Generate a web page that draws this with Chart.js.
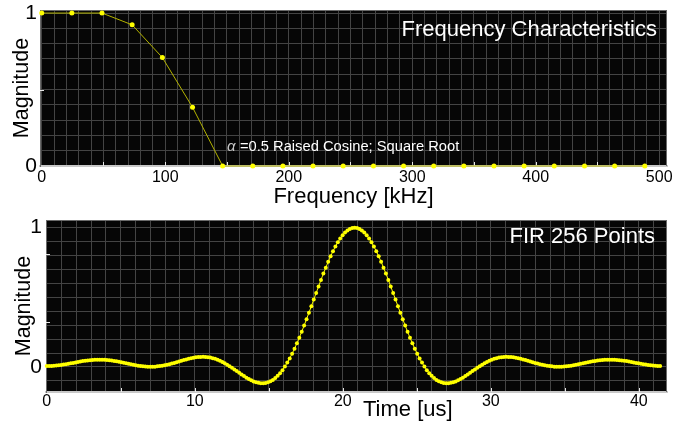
<!DOCTYPE html>
<html>
<head>
<meta charset="utf-8">
<title>Raised Cosine FIR</title>
<script src="https://cdn.jsdelivr.net/npm/chart.js@4.4.1/dist/chart.umd.min.js"></script>
<style>
  body { margin: 0; background: #fff; }
  canvas { position: absolute; left: 0; }
</style>
</head>
<body>
<canvas id="freqChart" width="679" height="210" style="top:0"></canvas>
<canvas id="firChart" width="679" height="213" style="top:210px"></canvas>
<script>
// ---- datos ----
// respuesta en frecuencia (muestras cada ~24.4 kHz)
const FREQ_KHZ = [0, 24.4, 48.8, 73.2, 97.7, 122.1, 146.5, 170.9, 195.3, 219.7, 244.1,
                  268.6, 293.0, 317.4, 341.8, 366.2, 390.6, 415.0, 439.5, 463.9, 488.3];
const FREQ_MAG = [1, 1, 1, 0.923, 0.709, 0.384, 0, 0, 0, 0, 0,
                  0, 0, 0, 0, 0, 0, 0, 0, 0, 0];
const FREQ_LABELS = [0, 100, 200, 300, 400, 500];
const FREQ_MARKS = [50, 100, 150, 200, 250, 300, 350, 400, 450];

// respuesta al impulso FIR, 256 coeficientes
const DT_US = 0.1625;
const FIR_COEF = [
  0.006, 0.007, 0.007, 0.008, 0.010, 0.012, 0.014, 0.017, 0.020, 0.023,
  0.026, 0.029, 0.032, 0.036, 0.039, 0.042, 0.044, 0.046, 0.048, 0.050,
  0.051, 0.052, 0.052, 0.052, 0.051, 0.049, 0.048, 0.046, 0.043, 0.040,
  0.037, 0.033, 0.030, 0.026, 0.023, 0.019, 0.015, 0.012, 0.009, 0.007,
  0.005, 0.003, 0.002, 0.002, 0.002, 0.002, 0.004, 0.006, 0.008, 0.012,
  0.015, 0.019, 0.024, 0.029, 0.034, 0.039, 0.044, 0.049, 0.054, 0.059,
  0.063, 0.066, 0.069, 0.071, 0.072, 0.073, 0.072, 0.070, 0.067, 0.063,
  0.058, 0.052, 0.044, 0.036, 0.026, 0.016, 0.005, -0.006, -0.018, -0.030,
  -0.042, -0.054, -0.066, -0.077, -0.087, -0.096, -0.104, -0.110, -0.114, -0.117,
  -0.117, -0.115, -0.110, -0.103, -0.093, -0.080, -0.064, -0.045, -0.023, 0.003,
  0.031, 0.061, 0.095, 0.131, 0.170, 0.210, 0.253, 0.297, 0.343, 0.389,
  0.436, 0.484, 0.531, 0.578, 0.625, 0.670, 0.713, 0.755, 0.794, 0.831,
  0.865, 0.895, 0.922, 0.946, 0.965, 0.980, 0.991, 0.998,
  1.000,
  0.998, 0.991, 0.980, 0.965, 0.946, 0.922, 0.895, 0.865, 0.831, 0.794,
  0.755, 0.713, 0.670, 0.625, 0.578, 0.531, 0.484, 0.436, 0.389, 0.343,
  0.297, 0.253, 0.210, 0.170, 0.131, 0.095, 0.061, 0.031, 0.003, -0.023,
  -0.045, -0.064, -0.080, -0.093, -0.103, -0.110, -0.115, -0.117, -0.117, -0.114,
  -0.110, -0.104, -0.096, -0.087, -0.077, -0.066, -0.054, -0.042, -0.030, -0.018,
  -0.006, 0.005, 0.016, 0.026, 0.036, 0.044, 0.052, 0.058, 0.063, 0.067,
  0.070, 0.072, 0.073, 0.072, 0.071, 0.069, 0.066, 0.063, 0.059, 0.054,
  0.049, 0.044, 0.039, 0.034, 0.029, 0.024, 0.019, 0.015, 0.012, 0.008,
  0.006, 0.004, 0.002, 0.002, 0.002, 0.002, 0.003, 0.005, 0.007, 0.009,
  0.012, 0.015, 0.019, 0.023, 0.026, 0.030, 0.033, 0.037, 0.040, 0.043,
  0.046, 0.048, 0.049, 0.051, 0.052, 0.052, 0.052, 0.051, 0.050, 0.048,
  0.046, 0.044, 0.042, 0.039, 0.036, 0.032, 0.029, 0.026, 0.023, 0.020,
  0.017, 0.014, 0.012, 0.010, 0.008, 0.007, 0.007
];
const TIME_LABELS = [0, 10, 20, 30, 40];
const TIME_MARKS = [5, 10, 15, 20, 25, 30, 35, 40];
const MAG_LABELS = [0, 1];

// ---- estilos ----
const FONT = "'Liberation Sans', Arial, sans-serif";
const PLOT_BG = '#060606';
const GRID = '#444444';
const FRAME = '#6a6a6a';
const MARK = '#e8e8e8';
const YELLOW = '#ffff00';

Chart.defaults.font.family = FONT;
Chart.defaults.color = '#000';

// fondo negro del area de trazado
const plotBackground = {
  id: 'plotBackground',
  beforeDraw(chart) {
    const { ctx, chartArea: a } = chart;
    ctx.save();
    ctx.fillStyle = PLOT_BG;
    ctx.fillRect(a.left, a.top, a.right - a.left, a.bottom - a.top);
    ctx.restore();
  }
};

// marco superior/derecho y marcas blancas en los ejes
function frameMarks(marksX, marksY) {
  return {
    id: 'frameMarks',
    beforeDatasetsDraw(chart) {
      const { ctx, chartArea: a, scales } = chart;
      ctx.save();
      ctx.lineWidth = 1;
      ctx.strokeStyle = FRAME;
      ctx.beginPath();
      ctx.moveTo(a.left, a.top + 0.5);
      ctx.lineTo(a.right, a.top + 0.5);
      ctx.moveTo(a.right - 0.5, a.top);
      ctx.lineTo(a.right - 0.5, a.bottom);
      ctx.stroke();
      ctx.strokeStyle = MARK;
      ctx.beginPath();
      marksX.forEach(v => {
        const x = Math.round(scales.x.getPixelForValue(v)) + 0.5;
        ctx.moveTo(x, a.bottom);
        ctx.lineTo(x, a.bottom - 4);
      });
      marksY.forEach(v => {
        const y = Math.round(scales.y.getPixelForValue(v)) + 0.5;
        ctx.moveTo(a.left, y);
        ctx.lineTo(a.left + 4, y);
      });
      ctx.stroke();
      ctx.restore();
    }
  };
}

// textos sueltos
function overlayText(items) {
  return {
    id: 'overlayText',
    afterDraw(chart) {
      const ctx = chart.ctx;
      ctx.save();
      items.forEach(t => {
        ctx.font = t.font;
        ctx.fillStyle = t.color;
        ctx.textAlign = t.align || 'left';
        ctx.textBaseline = 'alphabetic';
        ctx.fillText(t.text, t.x, t.y);
      });
      ctx.restore();
    }
  };
}

function only(list) {
  return value => (list.includes(value) ? String(value) : '');
}

function fitAxis(size, horizontal) {
  return scale => {
    if (horizontal) {
      scale.height = size;
      scale.paddingLeft = 0;
      scale.paddingRight = 0;
    } else {
      scale.width = size;
      scale.paddingTop = 0;
      scale.paddingBottom = 0;
    }
  };
}

// Grafico de respuesta en frecuencia
function drawFrequencyChart() {
  const ctx = document.getElementById('freqChart').getContext('2d');
  new Chart(ctx, {
    type: 'line',
    data: {
      datasets: [{
        data: FREQ_KHZ.map((f, i) => ({ x: f, y: FREQ_MAG[i] })),
        borderColor: '#b4b400',
        borderWidth: 1,
        pointRadius: 2.5,
        pointBackgroundColor: YELLOW,
        pointBorderWidth: 0,
        clip: false
      }]
    },
    options: {
      responsive: false,
      animation: false,
      layout: { padding: { top: 10, right: 12, left: 0, bottom: 0 } },
      plugins: { legend: { display: false }, tooltip: { enabled: false } },
      scales: {
        x: {
          type: 'linear', min: -1.4, max: 506.3,
          afterFit: fitAxis(44, true),
          ticks: { stepSize: 10, includeBounds: false, autoSkip: false, maxRotation: 0, minRotation: 0,
                   padding: 2, font: { size: 16 }, callback: only(FREQ_LABELS) },
          grid: { color: GRID, drawTicks: false },
          border: { color: '#c8c8c8', width: 2 },
          title: { display: true, text: 'Frequency [kHz]', font: { size: 22 }, padding: { top: 0, bottom: 0 } }
        },
        y: {
          type: 'linear', min: 0, max: 1.02,
          afterFit: fitAxis(40, false),
          ticks: { stepSize: 0.1, includeBounds: false, autoSkip: false, padding: 3,
                   font: { size: 21 }, callback: only(MAG_LABELS) },
          grid: { color: GRID, drawTicks: false },
          border: { color: FRAME, width: 1 },
          title: { display: true, text: 'Magnitude', font: { size: 21.5 }, padding: { top: 9, bottom: 0 } }
        }
      }
    },
    plugins: [
      plotBackground,
      frameMarks(FREQ_MARKS, [0.5]),
      overlayText([
        { text: 'Frequency Characteristics', x: 657, y: 36, align: 'right', font: '22px ' + FONT, color: '#fff' },
        { text: '\u03b1', x: 227, y: 151, font: 'italic 15px ' + FONT, color: '#c8c8c8' },
        { text: '=0.5 Raised Cosine; Square Root', x: 240, y: 151, font: '14.7px ' + FONT, color: '#fff' }
      ])
    ]
  });
}

// Grafico de la respuesta al impulso FIR
function drawFirChart() {
  const ctx = document.getElementById('firChart').getContext('2d');
  new Chart(ctx, {
    type: 'line',
    data: {
      datasets: [{
        data: FIR_COEF.map((v, i) => ({ x: i * DT_US, y: v })),
        borderColor: YELLOW,
        borderWidth: 1,
        pointRadius: 2,
        pointBackgroundColor: YELLOW,
        pointBorderWidth: 0,
        clip: false
      }]
    },
    options: {
      responsive: false,
      animation: false,
      layout: { padding: { top: 10, right: 12, left: 0, bottom: 0 } },
      plugins: { legend: { display: false }, tooltip: { enabled: false } },
      scales: {
        x: {
          type: 'linear', min: -0.05, max: 41.9,
          afterFit: fitAxis(31, true),
          ticks: { stepSize: 1, includeBounds: false, autoSkip: false, maxRotation: 0, minRotation: 0,
                   padding: 0, font: { size: 16 }, callback: only(TIME_LABELS) },
          grid: { color: GRID, drawTicks: false },
          border: { color: '#c8c8c8', width: 2 }
        },
        y: {
          type: 'linear', min: -0.18, max: 1.055,
          afterFit: fitAxis(46, false),
          ticks: { stepSize: 0.1, includeBounds: false, autoSkip: false, padding: 4,
                   font: { size: 21 }, callback: only(MAG_LABELS) },
          grid: { color: GRID, drawTicks: false },
          border: { color: FRAME, width: 1 },
          title: { display: true, text: 'Magnitude', font: { size: 21.5 }, padding: { top: 11, bottom: 0 } }
        }
      }
    },
    plugins: [
      plotBackground,
      frameMarks(TIME_MARKS, [0.32, 0.81]),
      overlayText([
        { text: 'FIR 256 Points', x: 655, y: 33, align: 'right', font: '22px ' + FONT, color: '#fff' },
        { text: 'Time [us]', x: 363, y: 206, font: '22px ' + FONT, color: '#000' }
      ])
    ]
  });
}

window.onload = () => {
  drawFrequencyChart();
  drawFirChart();
};
</script>
</body>
</html>
